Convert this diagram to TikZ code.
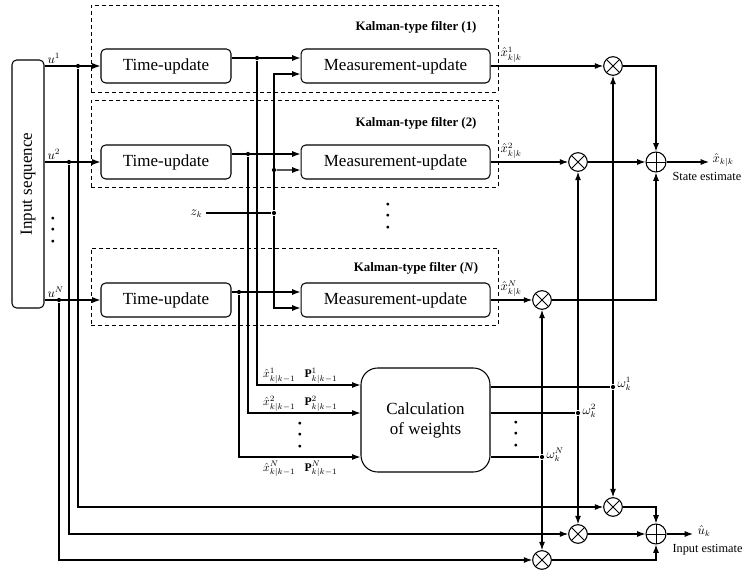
\documentclass[tikz,border=0pt]{standalone}
\usepackage{fontspec}
\setmainfont{Liberation Serif}
\usepackage{amsmath,amssymb}
\usepackage{tikz}
\usetikzlibrary{arrows.meta,positioning,calc}
\tikzset{
  kf/block/.style={draw, rounded corners=4pt, line width=0.9pt, inner sep=0pt, minimum height=1.02cm, align=center, font=\fontsize{14.5}{17}\selectfont},
  kf/tu/.style={kf/block, minimum width=3.9cm},
  kf/mu/.style={kf/block, minimum width=5.67cm},
  kf/frame/.style={draw, dash pattern=on 3.5pt off 2.5pt, line width=0.7pt, inner sep=0pt, minimum width=12.21cm},
  kf/title/.style={font=\fontsize{11}{13}\selectfont\bfseries, inner sep=1pt},
  kf/mult/.style={draw, circle, line width=0.9pt, minimum size=0.56cm, inner sep=0pt,
    path picture={\draw[line width=0.8pt] (path picture bounding box.north west) -- (path picture bounding box.south east)
      (path picture bounding box.north east) -- (path picture bounding box.south west);}},
  kf/sum/.style={draw, circle, line width=0.9pt, minimum size=0.6cm, inner sep=0pt,
    path picture={\draw[line width=0.8pt] (path picture bounding box.north) -- (path picture bounding box.south)
      (path picture bounding box.east) -- (path picture bounding box.west);}},
  kf/dot/.style={circle, fill, inner sep=0pt, minimum size=3.6pt},
  kf/vdts/.style={align=center, inner sep=0pt, font=\fontsize{10}{9.8}\selectfont},
  kf/lbl/.style={font=\fontsize{10}{12}\selectfont, inner sep=0pt},
  kf/note/.style={font=\fontsize{10.5}{12}\selectfont, inner sep=0pt},
  arr/.style={-{Latex[length=2.5mm,width=1.8mm]}}
}

\begin{document}
\begin{tikzpicture}[x=0.03cm, y=-0.03cm, line width=0.9pt]
\useasboundingbox (0,0) rectangle (756,572);

% the N filters
\node[kf/frame, minimum height=2.61cm] (kf1) at (294.5,48.5) {};
\node[kf/frame, minimum height=2.61cm] (kf2) at (294.5,143.5) {};
\node[kf/frame, minimum height=2.31cm] (kfN) at (294.5,286.5) {};
\node[kf/title] (t1) at (416,27) {Kalman-type filter (1)};
\node[kf/title] (t2) at (416,123) {Kalman-type filter (2)};
\node[kf/title] (tN) at (416,268) {Kalman-type filter (\textit{N})};

\node[kf/tu] (tu1) at (166,66) {Time-update};
\node[kf/mu, right=2.07cm of tu1] (mu1) {Measurement-update};
\node[kf/tu] (tu2) at (166,162) {Time-update};
\node[kf/mu, right=2.07cm of tu2] (mu2) {Measurement-update};
\node[kf/tu] (tuN) at (166,300) {Time-update};
\node[kf/mu, right=2.07cm of tuN] (muN) {Measurement-update};
\node[kf/vdts] (dk) at (388,217) {•\\•\\•};

% input sequence
\node[kf/block, rotate=90, minimum width=7.44cm, minimum height=0.96cm] (inseq) at (28,184) {Input sequence};
\node[kf/vdts] (du) at (53,231) {•\\•\\•};
\draw[arr] (inseq.south |- tu1) -- (tu1);
\draw[arr] (inseq.south |- tu2) -- (tu2);
\draw[arr] (inseq.south |- tuN) -- (tuN);
\node[kf/note, anchor=south west] (lu1) at (47,64) {$u^1$};
\node[kf/note, anchor=south west] (lu2) at (47,160) {$u^2$};
\node[kf/note, anchor=south west] (luN) at (47,298) {$u^N$};
\node[kf/dot] (ju1) at (78,66) {};
\node[kf/dot] (ju2) at (69,162) {};
\node[kf/dot] (juN) at (59,300) {};

% time-update -> measurement-update
\draw[arr] ([yshift=2.4mm]tu1.east) -- ([yshift=2.4mm]mu1.west);
\draw[arr] ([yshift=2.4mm]tu2.east) -- ([yshift=2.4mm]mu2.west);
\draw[arr] ([yshift=2.4mm]tuN.east) -- ([yshift=2.4mm]muN.west);
\node[kf/dot] (a1) at (257,58) {};
\node[kf/dot] (a2) at (248,154) {};
\node[kf/dot] (aN) at (239,292) {};

% measurement z_k
\node[kf/note, anchor=east] (zk) at (203,214) {$z_k$};
\node[kf/dot] (zj) at (274,213) {};
\node[kf/dot] (zj2) at (274,170) {};
\draw ([xshift=1mm]zk.east |- zj) -- (zj);
\draw[arr] (zj) |- ([yshift=-2.4mm]mu1.west);
\draw[arr] (zj) |- ([yshift=-2.4mm]muN.west);
\draw[arr] (zj2) -- ([yshift=-2.4mm]mu2.west);

% calculation of weights
\node[draw, rounded corners=0.5cm, line width=0.9pt, minimum width=3.87cm, minimum height=3.12cm, align=center,
  font=\fontsize{14.5}{17}\selectfont] (calc) at (425.5,420) {Calculation\\of weights};
\draw[arr] (a1) |- ([yshift=1.05cm]calc.west);
\draw[arr] (a2) |- ([yshift=0.21cm]calc.west);
\draw[arr] (aN) |- ([yshift=-1.11cm]calc.west);
\node[kf/lbl, anchor=east] (xp1) at (296,376) {$\hat{x}^1_{k|k-1}$};
\node[kf/lbl, anchor=west] (pp1) at (304,376) {$\mathbf{P}^1_{k|k-1}$};
\node[kf/lbl, anchor=east] (xp2) at (296,404) {$\hat{x}^2_{k|k-1}$};
\node[kf/lbl, anchor=west] (pp2) at (304,404) {$\mathbf{P}^2_{k|k-1}$};
\node[kf/vdts] (dc) at (300,436) {•\\•\\•};
\node[kf/lbl, anchor=east] (xpN) at (296,469) {$\hat{x}^N_{k|k-1}$};
\node[kf/lbl, anchor=west] (ppN) at (304,469) {$\mathbf{P}^N_{k|k-1}$};

\node[kf/dot] (w1) at (613,387) {};
\node[kf/dot] (w2) at (578,413) {};
\node[kf/dot] (wN) at (542,457) {};
\draw (w1 -| calc.east) -- (w1);
\draw (w2 -| calc.east) -- (w2);
\draw (wN -| calc.east) -- (wN);
\node[kf/vdts] (dw) at (516,435) {•\\•\\•};
\node[kf/note, anchor=west] (lw1) at (617,384) {$\omega^1_k$};
\node[kf/note, anchor=west] (lw2) at (582,411) {$\omega^2_k$};
\node[kf/note, anchor=west] (lwN) at (546,455) {$\omega^N_k$};

% state estimate
\node[kf/mult] (m1) at (613,66) {};
\node[kf/mult] (m2) at (578,162) {};
\node[kf/mult] (mN) at (542,300) {};
\node[kf/sum] (s1) at (656,162) {};
\draw[arr] (mu1) -- (m1);
\draw[arr] (mu2) -- (m2);
\draw[arr] (muN) -- (mN);
\node[kf/note, anchor=south west] (xk1) at (500,63) {$\hat{x}^1_{k|k}$};
\node[kf/note, anchor=south west] (xk2) at (500,159) {$\hat{x}^2_{k|k}$};
\node[kf/note, anchor=south west] (xkN) at (500,297) {$\hat{x}^N_{k|k}$};
\draw[arr] (w1) -- (m1);
\draw[arr] (w2) -- (m2);
\draw[arr] (wN) -- (mN);
\draw[arr] (m1) -| (s1);
\draw[arr] (m2) -- (s1);
\draw[arr] (mN) -| (s1);
\coordinate (xo) at (709,162);
\draw[arr] (s1) -- (xo);
\node[kf/note, anchor=west] (xl) at (712,160) {$\hat{x}_{k|k}$};
\node[kf/note, anchor=west] (sl) at (672,176) {State estimate};

% input estimate
\node[kf/mult] (im1) at (613,507) {};
\node[kf/mult] (im2) at (578,534) {};
\node[kf/mult] (imN) at (542,560) {};
\node[kf/sum] (s2) at (656,534) {};
\draw[arr] (ju1) |- (im1);
\draw[arr] (ju2) |- (im2);
\draw[arr] (juN) |- (imN);
\draw[arr] (w1) -- (im1);
\draw[arr] (w2) -- (im2);
\draw[arr] (wN) -- (imN);
\draw[arr] (im1) -| (s2);
\draw[arr] (im2) -- (s2);
\draw[arr] (imN) -| (s2);
\coordinate (uo) at (693,534);
\draw[arr] (s2) -- (uo);
\node[kf/note, anchor=west] (ul) at (697,531) {$\hat{u}_k$};
\node[kf/note, anchor=west] (il) at (672,550) {Input estimate};
\end{tikzpicture}
\end{document}
